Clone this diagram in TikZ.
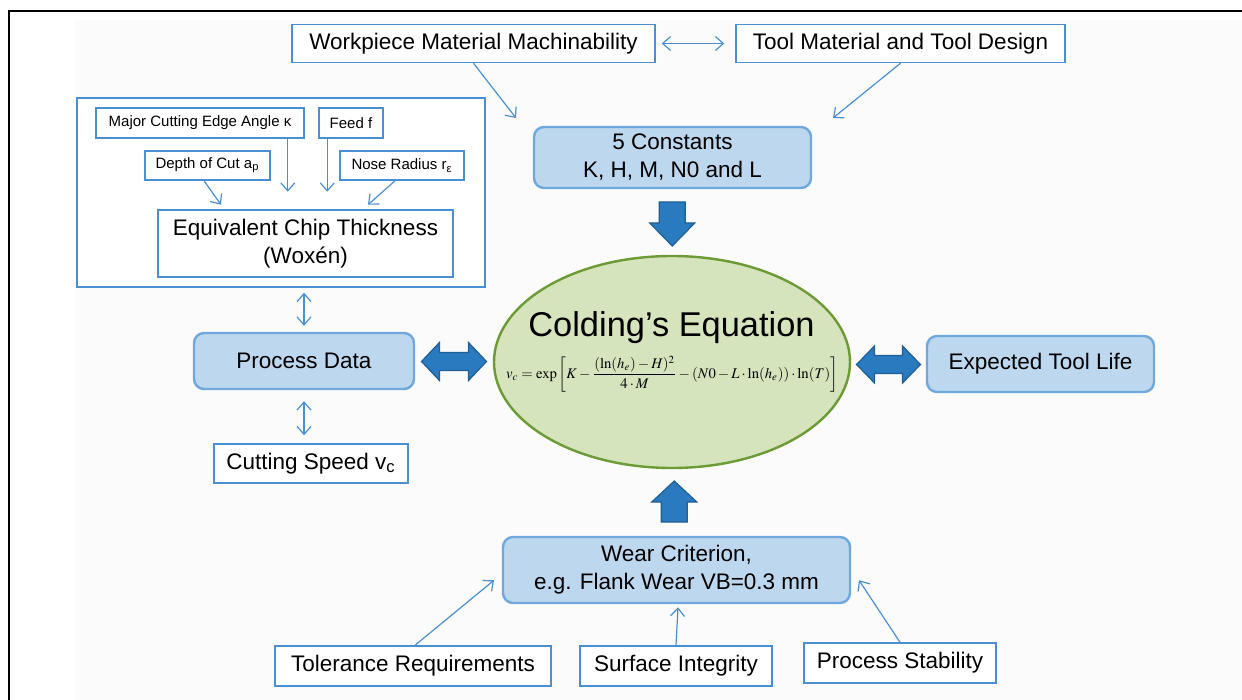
\documentclass[tikz,border=0pt]{standalone}
\usepackage{graphicx}
\usepackage{mathptmx}
\usepackage{fontspec}
\setmainfont{Liberation Sans}
\usetikzlibrary{shapes.geometric,arrows.meta,calc}
\definecolor{bfill}{HTML}{BDD7EE}
\definecolor{bline}{HTML}{6FA8DC}
\definecolor{wline}{HTML}{4A90D0}
\definecolor{aline}{HTML}{4A90D0}
\definecolor{blkfill}{HTML}{2A7ABF}
\definecolor{blkline}{HTML}{1F5F94}
\definecolor{efill}{HTML}{D5E4BC}
\definecolor{eline}{HTML}{6C9A34}
\definecolor{bgfill}{HTML}{FBFBFB}
\begin{document}
\begin{tikzpicture}[x=0.5pt,y=-0.5pt,
  sz/.style 2 args={minimum width=#1*0.5pt, minimum height=#2*0.5pt},
  wbox/.style={draw=wline, line width=0.75pt, fill=white, inner sep=0pt, align=center,
    font=\fontsize{11.25}{14}\selectfont},
  sbox/.style={draw=wline, line width=0.75pt, fill=white, inner sep=0pt, align=center,
    font=\fontsize{7.5}{9}\selectfont},
  gbox/.style={draw=wline, line width=0.75pt, fill=white, inner sep=0pt},
  bbox/.style={draw=bline, line width=1.2pt, fill=bfill, rounded corners=5pt, inner sep=0pt,
    align=center, font=\fontsize{11.25}{14}\selectfont},
  ell/.style={ellipse, draw=eline, line width=1.2pt, fill=efill, inner sep=0pt},
  con/.style={draw=aline, line width=0.6pt},
  >={Straight Barb[length=4pt,width=7pt]},
  blk/.style={fill=blkfill, draw=blkline, line width=0.6pt, line join=miter}
]
\useasboundingbox (0,0) rectangle (1242,700);
\fill[bgfill] (75,20) rectangle (1242,700);
\draw[line width=1.1pt] (9,700) -- (9,11) -- (1242,11);

\node[wbox, sz={363}{38}] (wp) at (473.5,43.5) {Workpiece Material Machinability};
\node[wbox, sz={329}{38}] (tm) at (900.5,43.5) {Tool Material and Tool Design};
\node[gbox, sz={408}{189}] (grp) at (281,192.5) {};
\node[sbox, sz={208}{30}] (major) at (200,123) {Major Cutting Edge Angle κ};
\node[sbox, sz={64}{30}] (feed) at (351,123) {Feed f};
\node[sbox, sz={125}{29}] (depth) at (207.5,165.5) {Depth of Cut a\textsubscript{p}};
\node[sbox, sz={124}{29}] (nose) at (402,165.5) {Nose Radius r\textsubscript{ε}};
\node[wbox, sz={295}{67}] (ect) at (305.5,243.5) {Equivalent Chip Thickness\\(Woxén)};
\node[bbox, sz={277}{61}] (const) at (672.5,157.5) {5 Constants\\K, H, M, N0 and L};
\node[ell, sz={356}{212}] (eq) at (672,362) {};
\node[font=\fontsize{17.2}{20}\selectfont, inner sep=0pt] (title) at (671.5,328) {Colding’s Equation};
\node[inner sep=0pt] (formula) at (672,374) {\resizebox{166pt}{!}{$\displaystyle v_c=\exp\left[K-\frac{(\ln(h_e)-H)^2}{4\cdot M}-(N0-L\cdot\ln(h_e))\cdot\ln(T)\right]$}};
\node[bbox, sz={220}{56}] (pd) at (304,361) {Process Data};
\node[wbox, sz={194}{39}] (cs) at (311,463.5) {Cutting Speed v\textsubscript{c}};
\node[bbox, sz={227}{56}] (etl) at (1040.5,364) {Expected Tool Life};
\node[bbox, sz={347}{66}] (wc) at (676.5,570) {Wear Criterion,\\e.g. Flank Wear VB=0.3 mm};
\node[wbox, sz={276}{40}] (tol) at (413,666) {Tolerance Requirements};
\node[wbox, sz={192}{40}] (si) at (676,666) {Surface Integrity};
\node[wbox, sz={192}{40}] (ps) at (900,663) {Process Stability};

% thin connectors
\draw[con,<->, shorten <=3pt, shorten >=5.5pt] (wp.east) -- (tm.west);
\coordinate (wpend) at (516,118);
\coordinate (tmend) at (833,118);
\draw[con,->] (wp.south) -- (wpend);
\draw[con,->] (tm.south) -- (tmend);
\draw[con,->] ($(major.south east)+(-17,0)$) -- ++(0,53);
\draw[con,->] ($(feed.south west)+(9,0)$) -- ++(0,53);
\draw[con,->] ($(depth.south)+(-3.5,0)$) -- ++(17,24);
\draw[con,->] ($(nose.south)+(-7,0)$) -- ++(-27,24);
\draw[con,<->, shorten <=2.5pt, shorten >=3pt] (pd.north |- grp.south) -- (pd.north);
\draw[con,<->, shorten <=5.5pt, shorten >=4pt] (pd.south) -- (pd.south |- cs.north);
\draw[con,->] ($(tol.north)+(2,0)$) -- ++(79,-65);
\draw[con,->] (si.north) -- ++(2,-38);
\draw[con,->] (ps.north) -- ++(-41,-62);

% block arrows
\coordinate (da) at ($(const.south)!0.5!(eq.north)$);
\begin{scope}[shift={(da)}]
  \draw[blk] (-13,-20) -- (13,-20) -- (13,1) -- (22.5,1) -- (0,24) -- (-22.5,1) -- (-13,1) -- cycle;
\end{scope}
\coordinate (ua) at ($(eq.south)!0.5!(wc.north)$);
\begin{scope}[shift={(ua)}]
  \draw[blk] (-13,19.5) -- (13,19.5) -- (13,-0.5) -- (22.5,-0.5) -- (0,-21.5) -- (-22.5,-0.5) -- (-13,-0.5) -- cycle;
\end{scope}
\coordinate (la) at ($(pd.east)!0.5!(eq.west)$);
\begin{scope}[shift={(la)}]
  \draw[blk] (-32.5,0) -- (-14.5,-19) -- (-14.5,-9) -- (14.5,-9) -- (14.5,-19) -- (32.5,0) -- (14.5,19) -- (14.5,9) -- (-14.5,9) -- (-14.5,19) -- cycle;
\end{scope}
\coordinate (ra) at ($(eq.east)!0.5!(etl.west)$);
\begin{scope}[shift={(ra)}]
  \draw[blk] (-32,1.5) -- (-14,-17) -- (-14,-7.5) -- (14,-7.5) -- (14,-17) -- (32,1.5) -- (14,20) -- (14,10.5) -- (-14,10.5) -- (-14,20) -- cycle;
\end{scope}
\end{tikzpicture}
\end{document}
